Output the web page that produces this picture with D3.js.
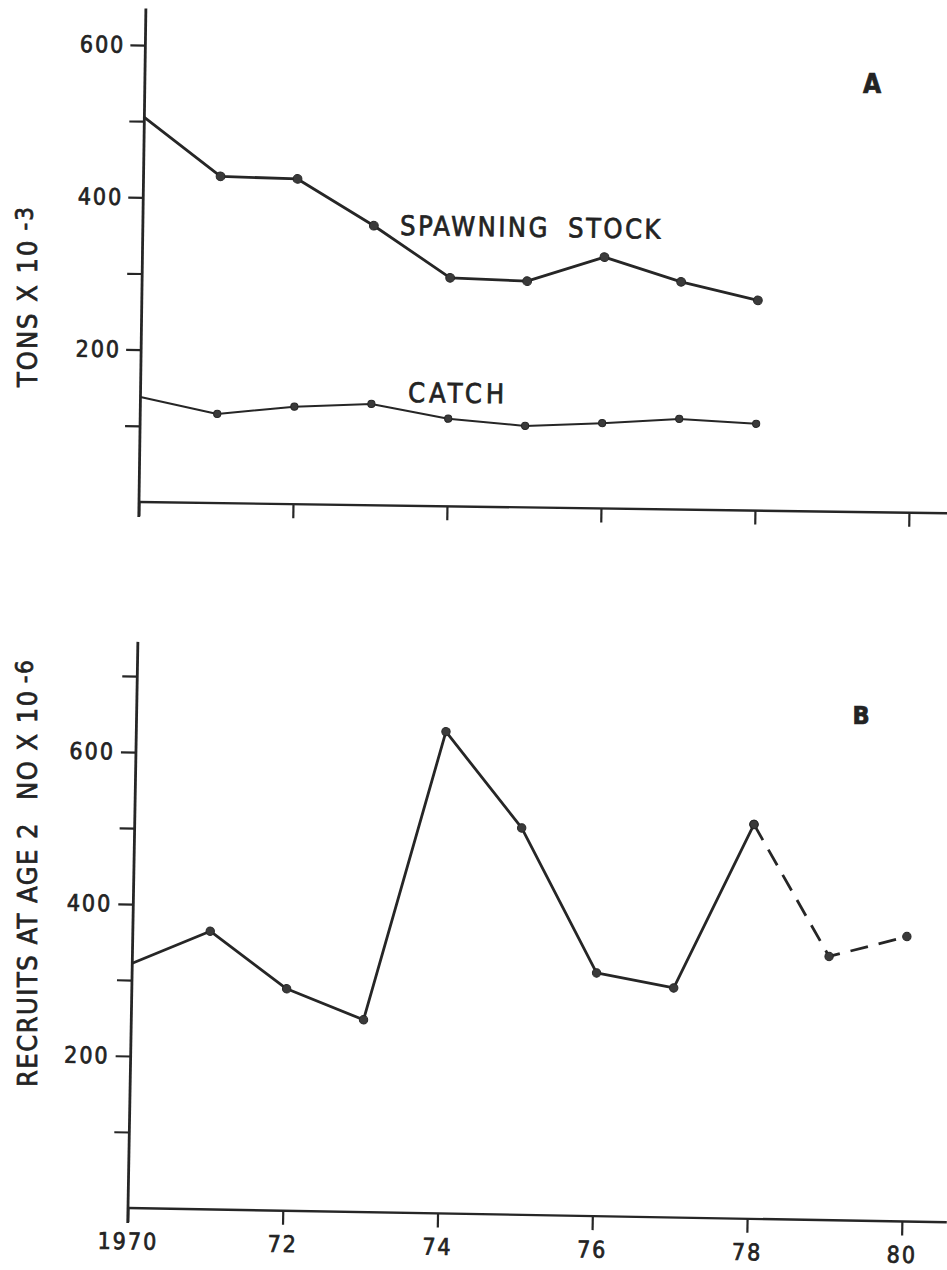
<!DOCTYPE html>
<html>
<head>
<meta charset="utf-8">
<script src="https://cdn.jsdelivr.net/npm/d3@7"></script>
<style>
  html, body { margin: 0; padding: 0; background: #fff; }
  svg { display: block; }
  text {
    font-family: "DejaVu Sans Condensed", "DejaVu Sans", sans-serif;
    fill: #232323;
    stroke: #232323;
    stroke-width: 0.7px;
  }
</style>
</head>
<body>
<svg id="chart" width="947" height="1270"></svg>
<script>
// Panel A: spawning stock and catch (tons x 10^-3)
const stockYears = [1970, 1971, 1972, 1973, 1974, 1975, 1976, 1977, 1978];
const spawningStock = [505, 429, 427, 367, 300, 297, 330, 299, 276];
const catchTons = [138, 117, 128, 133, 115, 107, 112, 119, 114];

// Panel B: recruits at age 2 (number x 10^-6); dashed from projectedFrom on
const recruitYears = [1970, 1971, 1972, 1973, 1974, 1975, 1976, 1977, 1978, 1979, 1980];
const recruits = [322, 366, 292, 253, 634, 509, 320, 302, 519, 347, 375];
const projectedFrom = 1978;

// Axis ticks and labels
const yTicksA = [100, 200, 300, 400, 500, 600];
const yTicksB = [100, 200, 300, 400, 500, 600, 700];
const yTickLabels = [200, 400, 600];
const xTicks = [1970, 1972, 1974, 1976, 1978, 1980];
const xTickLabels = ["1970", "72", "74", "76", "78", "80"];

const svg = d3.select("#chart");
const ink = "#262626";

function makePanel(cfg) {
  const g = svg.append("g")
    .attr("transform", `translate(${cfg.ox},${cfg.oy}) rotate(${cfg.angle})`);

  const x = d3.scaleLinear().domain([1970, 1980]).range([0, cfg.xLen]);
  const y = d3.scaleLinear().domain([0, 600]).range([0, -cfg.yLen]);

  // y axis with ticks on the left, labels every other tick
  const ya = g.append("g")
    .call(d3.axisLeft(y)
      .tickValues(cfg.yTicks)
      .tickSize(15)
      .tickSizeOuter(0)
      .tickPadding(cfg.yPad)
      .tickFormat(d => yTickLabels.includes(d) ? d : ""));
  ya.select(".domain").remove();
  ya.selectAll(".tick line").attr("stroke", ink).attr("stroke-width", 2.2);
  ya.selectAll(".tick text")
    .attr("font-size", 23).attr("letter-spacing", 2)
    .attr("font-family", null).attr("fill", ink);

  g.append("line")
    .attr("x1", 0).attr("x2", 0)
    .attr("y1", y(cfg.yTop)).attr("y2", 15)
    .attr("stroke", ink).attr("stroke-width", 2.8);

  // x axis
  const xa = g.append("g")
    .call(d3.axisBottom(x)
      .tickValues(xTicks)
      .tickSize(14)
      .tickSizeOuter(0)
      .tickPadding(11)
      .tickFormat((d, i) => cfg.xLabels ? xTickLabels[i] : ""));
  xa.select(".domain").remove();
  xa.selectAll(".tick line").attr("stroke", ink).attr("stroke-width", 2.2);
  xa.selectAll(".tick text")
    .attr("font-size", 23).attr("letter-spacing", 2)
    .attr("font-family", null).attr("fill", ink);

  g.append("line")
    .attr("x1", 0).attr("x2", x(cfg.xEnd))
    .attr("y1", 0).attr("y2", 0)
    .attr("stroke", ink).attr("stroke-width", 2.4);

  return { g, x, y };
}

function drawSeries(p, xs, ys, opts) {
  const pts = xs.map((d, i) => [d, ys[i]]);
  const line = d3.line().x(d => p.x(d[0])).y(d => p.y(d[1]));
  p.g.append("path")
    .attr("d", line(pts))
    .attr("fill", "none")
    .attr("stroke", ink)
    .attr("stroke-width", opts.width)
    .attr("stroke-linejoin", "round")
    .attr("stroke-dasharray", opts.dash || null);
  p.g.selectAll(null)
    .data(pts.filter(d => d[0] > 1970))
    .join("circle")
    .attr("cx", d => p.x(d[0]))
    .attr("cy", d => p.y(d[1]))
    .attr("r", opts.r)
    .attr("fill", "#3a3a3a")
    .attr("stroke", ink)
    .attr("stroke-width", 1);
}

// ---------- Panel A ----------
const pA = makePanel({
  ox: 139, oy: 502, angle: 0.8, xLen: 770, yLen: 457,
  yTicks: yTicksA, yTop: 648, yPad: 5, xEnd: 1980.52, xLabels: false
});
drawSeries(pA, stockYears, spawningStock, { width: 2.8, r: 4.4 });
drawSeries(pA, stockYears, catchTons, { width: 2.0, r: 3.6 });

// ---------- Panel B ----------
const pB = makePanel({
  ox: 128, oy: 1208, angle: 1.0, xLen: 774, yLen: 456,
  yTicks: yTicksB, yTop: 745, yPad: 6, xEnd: 1980.58, xLabels: true
});
const obsN = recruitYears.filter(d => d <= projectedFrom).length;
drawSeries(pB, recruitYears.slice(0, obsN), recruits.slice(0, obsN), { width: 2.8, r: 4.2 });
drawSeries(pB, recruitYears.slice(obsN - 1), recruits.slice(obsN - 1), { width: 2.8, r: 4.2, dash: "18,11" });

// ---------- Annotations ----------
svg.append("text")
  .attr("x", 400).attr("y", 235)
  .attr("font-size", 27).attr("letter-spacing", 2.5).attr("word-spacing", 8)
  .attr("transform", "rotate(0.8 400 235)")
  .text("SPAWNING STOCK");

svg.append("text")
  .attr("x", 408).attr("y", 402)
  .attr("font-size", 27).attr("letter-spacing", 4)
  .attr("transform", "rotate(0.8 408 402)")
  .text("CATCH");

svg.append("text")
  .attr("x", 872).attr("y", 93)
  .attr("text-anchor", "middle")
  .attr("font-size", 26).attr("font-weight", "bold")
  .text("A");

svg.append("text")
  .attr("x", 861).attr("y", 724)
  .attr("text-anchor", "middle")
  .attr("font-size", 25).attr("font-weight", "bold")
  .text("B");

// y axis titles
const titleA = svg.append("text")
  .attr("transform", "translate(37,387) rotate(-90)")
  .attr("font-size", 27).attr("letter-spacing", 2);
titleA.append("tspan").text("TONS X 10");
titleA.append("tspan").attr("dx", 8).attr("dy", -4).attr("font-size", 24).text("-3");

const titleB = svg.append("text")
  .attr("transform", "translate(37,1087) rotate(-90)")
  .attr("font-size", 27).attr("letter-spacing", 1.5);
titleB.append("tspan").text("RECRUITS AT AGE 2");
titleB.append("tspan").attr("dx", 22).text("NO X 10");
titleB.append("tspan").attr("dx", 6).attr("dy", -4).attr("font-size", 24).text("-6");
</script>
</body>
</html>
